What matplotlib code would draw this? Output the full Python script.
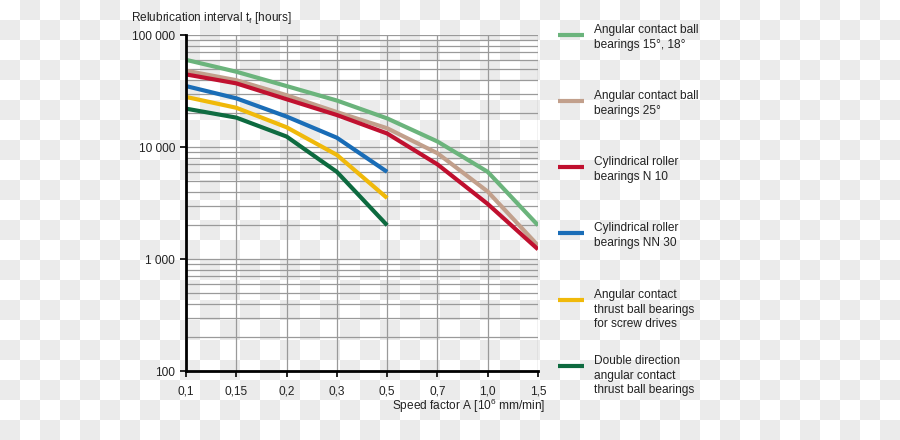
import numpy as np
import matplotlib
matplotlib.use("Agg")
import matplotlib.pyplot as plt
from matplotlib.lines import Line2D

plt.rcParams['font.family'] = ['Liberation Sans', 'DejaVu Sans']
plt.rcParams['mathtext.fontset'] = 'custom'
plt.rcParams['mathtext.rm'] = 'Liberation Sans'
plt.rcParams['mathtext.it'] = 'Liberation Sans'

# ---- data ----
speed_labels = ["0,1", "0,15", "0,2", "0,3", "0,5", "0,7", "1,0", "1,5"]
y_ticks = [100, 1000, 10000, 100000]
y_tick_labels = ["100", "1 000", "10 000", "100 000"]

acb_15_18 = [60000, 47000, 35000, 26000, 18000, 11200, 6000, 2000]
acb_25 = [48000, 39500, 29000, 20500, 14700, 8800, 4000, 1320]
crb_n10 = [44500, 37000, 26700, 19300, 13200, 7000, 3100, 1220]
crb_nn30 = [35000, 27200, 18700, 12100, 6000]
actbb_screw = [28000, 22400, 15000, 8500, 3500]
double_dir = [22000, 18300, 12400, 6000, 2000]

series = [
    ("Angular contact ball\nbearings 15°, 18°", acb_15_18, "#6bb47c"),
    ("Angular contact ball\nbearings 25°", acb_25, "#c2a08c"),
    ("Cylindrical roller\nbearings N 10", crb_n10, "#c0102f"),
    ("Cylindrical roller\nbearings NN 30", crb_nn30, "#1a6db7"),
    ("Angular contact\nthrust ball bearings\nfor screw drives", actbb_screw, "#f0b90a"),
    ("Double direction\nangular contact\nthrust ball bearings", double_dir, "#0e6b40"),
]

FS = 8.6
W, H = 900, 440
fig = plt.figure(figsize=(W / 100, H / 100), dpi=100)

# checkerboard background (transparency pattern of the reference)
yy, xx = np.mgrid[0:H, 0:W]
checker = ((xx // 20 + yy // 20) % 2).astype(float)
bg = np.where(checker[..., None] > 0, np.array([0.922, 0.922, 0.922]), np.array([1.0, 1.0, 1.0]))
fig.figimage(bg, 0, 0, origin='upper', zorder=-10)
fig.patch.set_alpha(0)

ax = fig.add_axes([186 / W, 1 - 371 / H, (538 - 186) / W, (371 - 35) / H])
ax.set_facecolor('none')

x = np.arange(len(speed_labels))
for label, vals, color in series:
    ax.plot(x[:len(vals)], vals, color=color, lw=3.0, solid_capstyle='butt',
            solid_joinstyle='miter', zorder=3)

ax.set_yscale('log')
ax.set_ylim(100, 100000)
ax.set_xlim(0, len(speed_labels) - 1)
ax.set_xticks(x)
ax.set_xticklabels(speed_labels)
ax.set_yticks(y_ticks)
ax.set_yticklabels(y_tick_labels)
ax.yaxis.set_minor_locator(matplotlib.ticker.LogLocator(base=10, subs=np.arange(2, 10)))
ax.yaxis.set_minor_formatter(matplotlib.ticker.NullFormatter())

ax.grid(True, which='major', axis='both', color='#9a9a9a', lw=0.9, zorder=1)
ax.grid(True, which='minor', axis='y', color='#9a9a9a', lw=0.9, zorder=1)
ax.tick_params(axis='y', which='minor', length=0)
ax.tick_params(axis='both', which='major', direction='out', length=4.5, width=1.2,
               color='black', labelsize=FS, labelcolor='#222222')
ax.tick_params(axis='y', pad=3.5)
ax.tick_params(axis='x', pad=6)

for s in ['top', 'right']:
    ax.spines[s].set_visible(False)
for s in ['left', 'bottom']:
    ax.spines[s].set_color('black')
    ax.spines[s].set_linewidth(2.0)
    ax.spines[s].set_zorder(4)

fig.text(131 / W, 1 - 18 / H, r"Relubrication interval t$_\mathrm{f}$ [hours]",
         fontsize=FS, color='#222222', ha='left', va='center')
fig.text(545 / W, 1 - 406 / H, r"Speed factor A [10$^6$ mm/min]",
         fontsize=FS, color='#222222', ha='right', va='center')

# legend
leg_y = [35, 101, 167, 233, 300, 366]
for (label, vals, color), ly in zip(series, leg_y):
    fig.add_artist(Line2D([558 / W, 584 / W], [1 - ly / H, 1 - ly / H],
                          color=color, lw=3.0, solid_capstyle='butt',
                          transform=fig.transFigure))
    fig.text(594 / W, 1 - (ly - 11) / H, label, fontsize=FS, color='#222222',
             ha='left', va='top', linespacing=1.3)

fig.savefig("out.png", dpi=100)
